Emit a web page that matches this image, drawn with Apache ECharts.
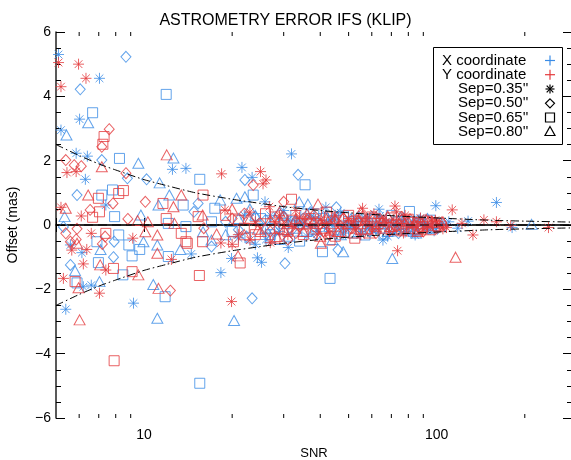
<!DOCTYPE html>
<html>
<head>
<meta charset="utf-8">
<script src="https://cdn.jsdelivr.net/npm/echarts@6/dist/echarts.min.js"></script>
<style>
  html, body { margin: 0; padding: 0; background: #fff; }
  #chart { width: 571px; height: 460px; }
</style>
</head>
<body>
<div id="chart"></div>
<script>
// --- data: [SNR, offset (mas)] ---
var xSep35 = [[5.1,5.3],[7.04,4.56],[6.02,3.29],[5.2,2.95],[5.86,2.23],[6.4,2.14],[12.5,1.73],[13.9,1.76],[21.6,1.79],[6.3,1.42],[31.9,2.21],[23.4,1.48],[25.9,0.72],[7.4,0.62],[41.8,0.55],[63.5,0.49],[99.3,0.6],[160,0.7],[181,-0.08],[5.4,-2.62],[9.2,-2.43],[6.2,-1.92],[6.6,-1.87],[18.3,-1.48],[6.13,-0.86],[5.6,-0.62],[14.5,-0.9],[19.9,-1.04],[24.4,-1.02],[25.2,-1.16],[31.1,-0.7],[26.1,-0.45],[65.5,-0.47],[84.4,-0.31],
  [22,0.3],[24,-0.6],[27,0.3],[29,-0.2],[30,0.45],[33,0.1],[36,-0.35],[38,0.25],[42,-0.1],[45,0.3],[47,0.38],[48,-0.25],[52,0.05],[55,-0.3],[58,0.2],[62,-0.15],[67,0.1],[68,-0.35],[72,-0.2],[76,0.15],[82,-0.05],[88,0.2],[93,-0.12],[105,0.05],[118,-0.1],[128,0.12],
  [31,0.15],[35,0.05],[39,-0.2],[44,0.18],[50,-0.12],[54,0.22],[59,-0.05],[64,0.28],[70,0.02],[78,-0.22],[85,0.12],[91,-0.02],[98,-0.18],[110,0.1],[26,-0.25],[21,-0.4]];
var xSep50 = [[8.67,5.23],[6.05,4.22],[7.17,2.02],[8.77,1.45],[10.2,1.42],[5.9,0.93],[22.1,1.4],[33.6,1.56],[15.3,0.67],[5.6,-1.24],[7.86,-1.0],[7.9,-0.52],[17.0,-0.67],[22.4,-0.36],[30.3,-1.19],[23.4,-2.28],[46,-0.77],[45.4,0.55],[5.3,-0.06],
  [26,0.15],[29,0.35],[32,-0.15],[35,0.2],[37,0.4],[39,-0.3],[44,0.1],[49,-0.05],[54,0.25],[59,-0.2],[65,0.05],[71,-0.15],[77,0.2],[84,-0.2],[91,0.05],[98,-0.05],[19,0.1],[14.8,0.41],
  [28,-0.2],[33,0.1],[41,0.25],[47,-0.25],[52,0.05],[57,0.15],[62,-0.1],[68,0.22],[74,-0.25],[80,0.08],[87,0.15],[94,-0.12],[24,0.25],[21,-0.15]];
var xSep65 = [[6.67,3.49],[11.9,4.06],[8.24,2.07],[15.5,1.42],[7.17,0.93],[7.8,1.09],[13.6,0.62],[35.5,1.25],[80.7,0.42],[15.5,-4.92],[11.8,-2.23],[8.46,-1.55],[6.98,-1.17],[9.1,-0.96],[12.1,-0.98],[6.9,-0.52],[8.19,-0.31],[8.87,-0.62],[9.66,-0.76],[12.1,0.05],[7.93,0.26],[17.45,0.52],[23.6,0.93],[13.9,-0.05],[40.7,-0.83],[43.2,-1.66],[56.9,-0.31],[5.9,-1.8],
  [27,-0.3],[30,0.05],[33,0.3],[34,-0.5],[36,-0.2],[41,0.2],[46,-0.15],[50,0.1],[55,-0.05],[61,0.18],[66,-0.28],[74,0.1],[80,-0.15],[86,0.05],[95,0.15],[20,-0.2],[17,0.1],
  [25,0.2],[29,-0.45],[32,0.1],[38,0.35],[43,-0.05],[48,0.28],[52,-0.25],[58,0.05],[64,-0.1],[70,0.3],[77,0.02],[83,-0.2],[90,-0.08],[100,0.05],[23,-0.4]];
var xSep80 = [[6.44,3.18],[5.43,2.8],[9.56,1.92],[12.6,2.08],[11.3,1.31],[12.2,0.93],[5.35,0.26],[5.81,-1.42],[7.04,-1.76],[7.1,-0.76],[10.75,-1.85],[11.1,-2.9],[20.3,-2.97],[11.1,-0.62],[13.3,-0.76],[15.9,-0.21],[9.75,0.31],[9.95,-0.52],[11.2,0.62],[18.2,0.78],[20.7,0.83],[22.1,0.88],[33.9,0.72],[17,-0.47],[36.3,0.65],[47.9,-0.83],[70.5,-1.04],[211,0.02],
  [26,-0.1],[28,0.2],[31,-0.35],[35,0.05],[38,-0.15],[42,0.3],[44,-0.45],[47,-0.3],[51,0.2],[57,-0.1],[63,0.12],[68,-0.2],[75,0.25],[81,-0.05],[89,0.12],[97,-0.1],[19,-0.3],[23,0.5],
  [24,0.3],[27,-0.4],[30,0.3],[33,-0.1],[37,0.2],[40,0.05],[45,0.15],[49,0.02],[54,-0.2],[60,0.28],[66,0.05],[72,-0.12],[78,0.05],[85,-0.25],[93,0.2],[103,-0.05],[21,0.2]];

var ySep35 = [[5.1,5.05],[5.97,5.0],[6.33,4.56],[5.2,4.3],[5.45,1.63],[5.86,1.66],[18.4,1.59],[25.0,1.66],[26.1,1.4],[25.5,1.28],[6.1,0.28],[5.2,0.55],[18.9,0.47],[26.8,0.57],[55.8,0.52],[72,0.59],[73,0.41],[113,0.47],[145,0.16],[160,0.1],[179,-0.02],[241,-0.08],[133,-0.31],[7.04,-2.12],[19.9,-2.38],[6.2,-1.21],[5.3,-1.66],[5.66,-0.78],[6.37,-0.76],[7.4,-1.4],[12.4,-1.07],[18.3,-0.56],[23.0,-0.47],[73.5,-0.8],[6.6,-0.26],[9.15,-0.41],
  [21,-0.3],[23,0.4],[27,-0.55],[28,0.1],[31,-0.3],[33,0.45],[34,0.25],[37,-0.1],[40,0.15],[43,-0.25],[46,0.05],[50,0.2],[53,-0.15],[57,0.1],[60,-0.05],[61,0.35],[64,0.2],[69,-0.2],[75,0.05],[78,0.3],[79,-0.1],[85,0.1],[90,-0.15],[96,0.12],[102,0.02],[108,-0.08],[122,0.05],
  [29,0.3],[32,-0.05],[36,0.18],[39,-0.28],[42,0.05],[45,0.28],[48,-0.1],[52,0.1],[55,-0.3],[59,0.22],[63,-0.12],[67,0.08],[71,0.18],[77,-0.25],[83,0.02],[88,0.22],[93,-0.05],[99,0.15],[105,-0.12],[24,0.1],[20,-0.6]];
var ySep50 = [[7.6,2.98],[7.17,2.43],[5.4,2.02],[5.77,1.86],[6.1,1.83],[8.67,1.61],[6.54,0.47],[7.83,0.67],[10.1,0.72],[8.8,0.19],[23.6,1.24],[30,0.72],[12.3,-2.04],[5.9,-0.12],[5.6,-0.52],[5.4,-0.26],[5.86,-0.45],[7.36,-0.36],[7.2,-0.59],
  [27,-0.2],[30,0.25],[31,-0.45],[34,-0.05],[38,0.3],[41,-0.2],[45,0.15],[51,-0.1],[56,0.28],[62,-0.25],[66,0.12],[73,-0.05],[81,0.18],[87,-0.1],[94,0.1],[100,-0.1],[20,0.2],[16,-0.1],
  [25,0.05],[29,0.1],[33,-0.25],[36,0.15],[40,0.02],[43,-0.3],[48,0.2],[53,0.05],[59,-0.15],[64,0.18],[69,-0.18],[76,0.25],[84,-0.02],[90,-0.2],[97,0.05],[104,0.08],[22,0.35]];
var ySep65 = [[7.3,2.75],[7.23,2.51],[6.98,0.83],[7.04,0.41],[6.67,0.24],[8.5,1.07],[8.19,0.98],[11.6,0.67],[15.9,0.93],[31.9,0.8],[7.9,-4.22],[5.81,-1.76],[7.86,-1.35],[9.1,-1.45],[15.45,-1.57],[21.3,-1.18],[14.05,-0.57],[15.85,-0.52],[13.4,-0.26],[11.9,0.2],[15.3,0.26],[13.9,-0.52],[20.2,-0.52],[28,-0.41],[43.2,-0.47],[52.5,-0.41],[7.4,-0.26],
  [26,0.35],[29,-0.1],[32,0.15],[35,-0.3],[39,0.05],[42,0.4],[43,0.25],[47,-0.2],[53,0.12],[58,-0.12],[63,0.05],[70,0.22],[76,-0.18],[83,0.08],[89,-0.05],[97,0.08],[19,0.3],[22,-0.1],
  [24,-0.3],[28,0.25],[31,-0.2],[34,0.05],[37,0.2],[41,-0.1],[45,-0.35],[50,0.3],[55,0.05],[60,0.25],[66,-0.1],[73,0.0],[80,0.18],[86,-0.15],[93,0.12],[101,-0.05],[21,0.15]];
var ySep80 = [[11.95,2.18],[7.17,1.81],[6.44,0.93],[5.4,0.52],[13.4,0.93],[12.6,0.57],[6.02,-2.95],[5.97,-1.95],[11.2,-1.97],[9.56,-1.55],[7.08,-1.24],[5.9,-0.57],[10.1,-0.21],[11.1,-0.31],[11.1,-0.88],[12.7,0.05],[9.5,0.14],[15.85,0.31],[10.3,0.1],[17.7,-0.28],[20.95,-0.96],[24.5,-0.13],[28.4,-0.36],[39.3,0.65],[40.2,-0.57],[116,-1.0],
  [27,0.15],[30,-0.15],[33,0.2],[36,0.35],[40,-0.35],[44,0.05],[48,0.25],[52,-0.25],[55,0.4],[57,0.15],[62,-0.05],[68,0.28],[73,-0.15],[80,0.1],[86,-0.2],[92,0.18],[99,-0.02],[20,0.5],[22,-0.3],
  [25,-0.2],[29,0.4],[31,0.05],[35,-0.2],[38,0.1],[42,0.2],[46,-0.2],[50,0.05],[54,0.18],[59,-0.25],[65,0.12],[70,-0.05],[76,0.2],[83,-0.1],[89,0.05],[95,-0.15],[105,0.1],[23,0.2]];

// envelope (dash-dot) and zero line
var envSnr = [5, 6, 7, 8, 10, 12, 15, 20, 25, 30, 40, 50, 70, 100, 150, 200, 290];
var envUp  = [2.5, 2.16, 1.9, 1.71, 1.41, 1.22, 1.0, 0.8, 0.67, 0.57, 0.45, 0.38, 0.29, 0.22, 0.15, 0.12, 0.09];
var envLo  = [-2.5, -2.16, -1.9, -1.71, -1.41, -1.22, -1.0, -0.8, -0.67, -0.57, -0.45, -0.38, -0.29, -0.22, -0.15, -0.12, -0.09];
var zeroSnr = [5, 290];
var zeroVal = [0, 0];

var xMinorTicks = [6, 7, 8, 9, 20, 30, 40, 50, 60, 70, 80, 90, 200];
var xLabels = [10, 100];

var legendRows = ['X coordinate', 'Y coordinate', "Sep=0.35''", "Sep=0.50''", "Sep=0.65''", "Sep=0.80''"];

var blue = '#3b8ce6';
var red = '#e43a3c';
var font = 'Liberation Sans, Helvetica, Arial, sans-serif';
var starPath = 'path://M5,0L5,10M0,5L10,5M1.5,1.5L8.5,8.5M1.5,8.5L8.5,1.5';

function scat(name, data, color, symbol, size) {
  return {
    name: name, type: 'scatter', data: data, symbol: symbol, symbolSize: size,
    silent: true,
    itemStyle: { color: 'rgba(0,0,0,0)', borderColor: color, borderWidth: 1 }
  };
}
function zip(a, b) { return a.map(function (v, i) { return [v, b[i]]; }); }

// legend glyphs
function lineEl(x1, y1, x2, y2, c) {
  return { type: 'line', z: 101, shape: { x1: x1, y1: y1, x2: x2, y2: y2 }, style: { stroke: c, lineWidth: 1.2 } };
}
var lgX = 550, rowY = [60.5, 74.7, 89, 103.3, 117.5, 131.5];
var legendEls = [
  { type: 'rect', z: 100, shape: { x: 433.5, y: 47.5, width: 129, height: 97 }, style: { fill: '#fff', stroke: '#000', lineWidth: 1 } }
];
legendRows.forEach(function (t, i) {
  legendEls.push({ type: 'text', z: 101, x: i < 2 ? 442 : 458, y: rowY[i],
    style: { text: t, fill: '#000', font: '15px ' + font, verticalAlign: 'middle' } });
});
[blue, red].forEach(function (c, i) {
  legendEls.push(lineEl(lgX - 5, rowY[i], lgX + 5, rowY[i], c));
  legendEls.push(lineEl(lgX, rowY[i] - 5, lgX, rowY[i] + 5, c));
});
(function () {
  var y = rowY[2];
  legendEls.push(lineEl(lgX - 4.5, y, lgX + 4.5, y, '#000'));
  legendEls.push(lineEl(lgX, y - 4.5, lgX, y + 4.5, '#000'));
  legendEls.push(lineEl(lgX - 3.3, y - 3.3, lgX + 3.3, y + 3.3, '#000'));
  legendEls.push(lineEl(lgX - 3.3, y + 3.3, lgX + 3.3, y - 3.3, '#000'));
  y = rowY[3];
  legendEls.push({ type: 'polygon', z: 101, shape: { points: [[lgX, y - 4.5], [lgX + 4.5, y], [lgX, y + 4.5], [lgX - 4.5, y]] }, style: { fill: 'none', stroke: '#000', lineWidth: 1.2 } });
  y = rowY[4];
  legendEls.push({ type: 'rect', z: 101, shape: { x: lgX - 4.5, y: y - 4.5, width: 9, height: 9 }, style: { fill: 'none', stroke: '#000', lineWidth: 1.2 } });
  y = rowY[5];
  legendEls.push({ type: 'polygon', z: 101, shape: { points: [[lgX, y - 5], [lgX + 5, y + 4], [lgX - 5, y + 4]] }, style: { fill: 'none', stroke: '#000', lineWidth: 1.2 } });
})();

var axisLine = { show: true, lineStyle: { color: '#222', width: 1.5 } };
var chart = echarts.init(document.getElementById('chart'));
chart.setOption({
  animation: false,
  backgroundColor: '#fff',
  title: {
    text: 'ASTROMETRY ERROR IFS (KLIP)', left: 'center', top: 8,
    textStyle: { fontFamily: font, fontSize: 16, fontWeight: 'normal', color: '#000' }
  },
  grid: { left: 56, right: -1, top: 32, bottom: 42, outerBoundsMode: 'none', containLabel: false },
  xAxis: [{
    type: 'log', logBase: 10, min: 5, max: 290, position: 'bottom',
    name: 'SNR', nameLocation: 'middle', nameGap: 27,
    nameTextStyle: { fontFamily: font, fontSize: 13, color: '#000' },
    axisLine: axisLine,
    axisTick: { show: true, inside: true, length: 7, lineStyle: { color: '#000' } },
    axisLabel: { show: true, margin: 10, fontFamily: font, fontSize: 14, color: '#000',
      formatter: function (v) { return xLabels.indexOf(Math.round(v)) >= 0 ? String(Math.round(v)) : ''; } },
    splitLine: { show: false }
  }, {
    type: 'log', logBase: 10, min: 5, max: 290, position: 'top',
    axisLine: axisLine,
    axisTick: { show: true, inside: true, length: 7, lineStyle: { color: '#000' } },
    axisLabel: { show: false }, splitLine: { show: false }
  }],
  yAxis: [{
    type: 'value', min: -6, max: 6, interval: 2, position: 'left',
    name: 'Offset (mas)', nameLocation: 'middle', nameGap: 36,
    nameTextStyle: { fontFamily: font, fontSize: 14, color: '#000' },
    axisLine: axisLine,
    axisTick: { show: true, inside: true, length: 9, lineStyle: { color: '#000' } },
    minorTick: { show: true, splitNumber: 4, length: 5, lineStyle: { color: '#000' } },
    axisLabel: { margin: 5, fontFamily: font, fontSize: 14, color: '#000',
      formatter: function (v) { return String(v).replace('-', '\u2212'); } },
    splitLine: { show: false }
  }, {
    type: 'value', min: -6, max: 6, interval: 2, position: 'right',
    axisLine: axisLine,
    axisTick: { show: true, inside: true, length: 9, lineStyle: { color: '#000' } },
    minorTick: { show: true, splitNumber: 4, length: 5, lineStyle: { color: '#000' } },
    axisLabel: { show: false }, splitLine: { show: false }
  }],
  graphic: legendEls,
  series: [
    scat('X 0.35', xSep35, blue, starPath, 11),
    scat('X 0.50', xSep50, blue, 'diamond', [10, 11]),
    scat('X 0.65', xSep65, blue, 'rect', 10),
    scat('X 0.80', xSep80, blue, 'triangle', [11, 10]),
    scat('Y 0.35', ySep35, red, starPath, 11),
    scat('Y 0.50', ySep50, red, 'diamond', [10, 11]),
    scat('Y 0.65', ySep65, red, 'rect', 10),
    scat('Y 0.80', ySep80, red, 'triangle', [11, 10]),
    { type: 'line', data: zip(zeroSnr, zeroVal), symbol: 'none', silent: true, z: 5,
      lineStyle: { color: '#000', width: 1, type: [9, 5] } },
    { type: 'line', data: zip(envSnr, envUp), symbol: 'none', silent: true, z: 5, smooth: 0.2,
      lineStyle: { color: '#000', width: 1, type: [8, 3, 1.5, 3] } },
    { type: 'line', data: zip(envSnr, envLo), symbol: 'none', silent: true, z: 5, smooth: 0.2,
      lineStyle: { color: '#000', width: 1, type: [8, 3, 1.5, 3] } },
    { type: 'custom', silent: true, clip: false, z: 6,
      data: xMinorTicks.map(function (v) { return [v, 0]; }),
      renderItem: function (params, api) {
        var x = api.value(0);
        var pb = api.coord([x, -6]), pt = api.coord([x, 6]);
        var st = { stroke: '#000', lineWidth: 1 };
        return { type: 'group', children: [
          { type: 'line', shape: { x1: pb[0], y1: pb[1], x2: pb[0], y2: pb[1] - 4 }, style: st },
          { type: 'line', shape: { x1: pt[0], y1: pt[1], x2: pt[0], y2: pt[1] + 4 }, style: st }
        ] };
      } }
  ]
});
</script>
</body>
</html>
